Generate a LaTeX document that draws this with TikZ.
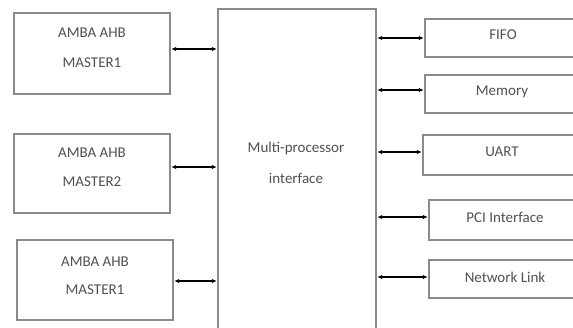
\documentclass[tikz,border=0pt]{standalone}
\usepackage{fontspec}
\setmainfont{Carlito}
\usetikzlibrary{arrows.meta}
\definecolor{boxgray}{HTML}{8A8A8A}
\definecolor{txtgray}{HTML}{505050}
\tikzset{
  blk/.style={draw=boxgray, line width=1.4pt, inner sep=0pt, minimum width=#1},
  blk/.default=156pt,
  lbl/.style={text=txtgray, font=\fontsize{15}{16}\selectfont, inner sep=0pt},
  link/.style={line width=1.4pt, black, {Latex[length=5pt,width=4.5pt]}-{Latex[length=5pt,width=4.5pt]}, shorten <=0.5pt, shorten >=0.5pt}
}
\begin{document}
\begin{tikzpicture}[x=1pt, y=-1pt]
\useasboundingbox (0,0) rectangle (573,327);
\begin{scope}
\clip (0,0) rectangle (573,327);
% left masters
\node[blk, minimum height=81pt] (m1) at (92,53.5) {};
\node[blk, minimum height=79pt] (m2) at (92,173.5) {};
\node[blk, minimum height=80pt] (m3) at (95,280) {};
\node[lbl] (m1a) at (92,33) {AMBA AHB};
\node[lbl] (m1b) at (92,63) {MASTER1};
\node[lbl] (m2a) at (92,153) {AMBA AHB};
\node[lbl] (m2b) at (92,182) {MASTER2};
\node[lbl] (m3a) at (95,262) {AMBA AHB};
\node[lbl] (m3b) at (95,290) {MASTER1};
% central block (open at bottom, cut by the page)
\node[blk=158pt, minimum height=336pt] (mp) at (297,177) {};
\node[lbl] (mpa) at (296,148) {Multi-processor};
\node[lbl] (mpb) at (296,178) {interface};
% right slaves (cut by the page at the right)
\node[blk=158pt, minimum height=38pt] (fifo) at (504,38) {};
\node[blk=158pt, minimum height=38pt] (mem) at (504,94) {};
\node[blk=160pt, minimum height=40pt] (uart) at (503,155) {};
\node[blk=154pt, minimum height=40pt] (pci) at (506,220) {};
\node[blk=154pt, minimum height=38pt] (net) at (506,279) {};
\node[lbl] (fifot) at (503,35) {FIFO};
\node[lbl] (memt) at (502,92) {Memory};
\node[lbl] (uartt) at (502,152) {UART};
\node[lbl] (pcit) at (505,217) {PCI Interface};
\node[lbl] (nett) at (505,277) {Network Link};
% links
\draw[link] ([yshift=4.5pt]m1.east) -- ([yshift=4.5pt]m1.east -| mp.west);
\draw[link] ([yshift=6.5pt]m2.east) -- ([yshift=6.5pt]m2.east -| mp.west);
\draw[link] ([yshift=-1pt]m3.east) -- ([yshift=-1pt]m3.east -| mp.west);
\draw[link] (fifo.west -| mp.east) -- (fifo.west);
\draw[link] ([yshift=4pt]mem.west -| mp.east) -- ([yshift=4pt]mem.west);
\draw[link] ([yshift=3pt]uart.west -| mp.east) -- ([yshift=3pt]uart.west);
\draw[link] ([yshift=3pt]pci.west -| mp.east) -- ([yshift=3pt]pci.west);
\draw[link] ([yshift=2pt]net.west -| mp.east) -- ([yshift=2pt]net.west);
\end{scope}
\end{tikzpicture}
\end{document}
